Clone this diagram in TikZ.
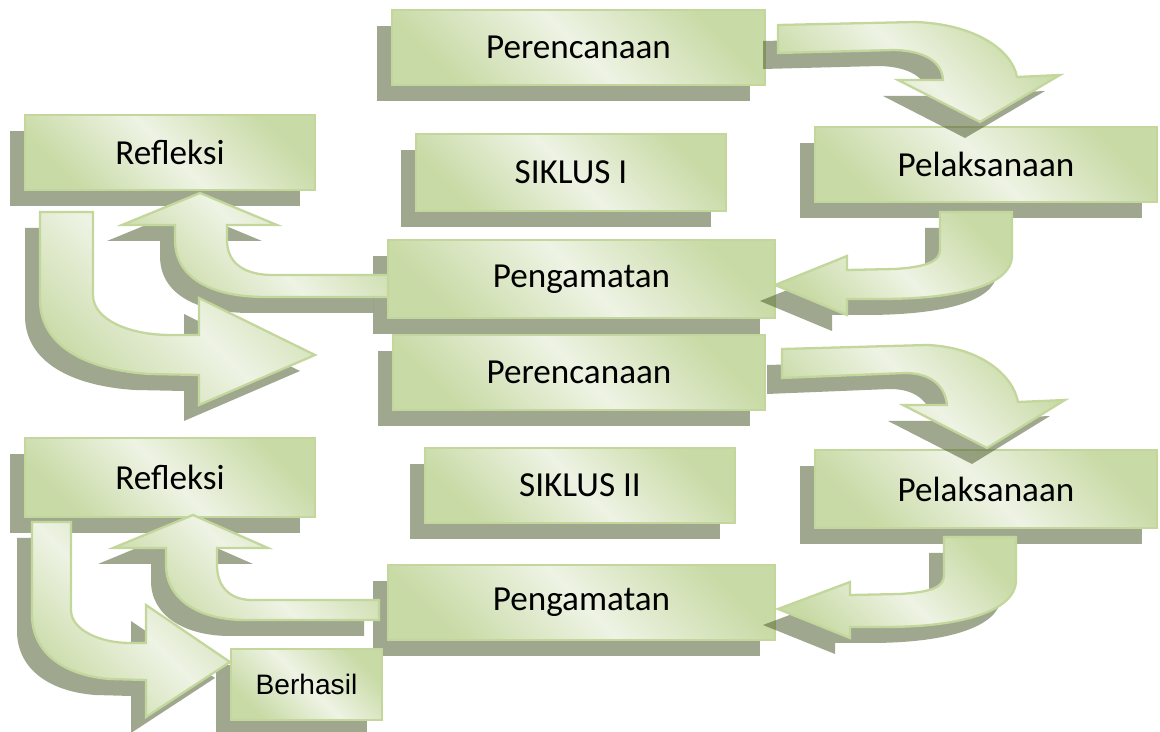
\documentclass[tikz,border=0pt]{standalone}
\usepackage{fontspec}
\setmainfont{Carlito}
\newfontfamily\arialfont{Liberation Sans}
\usetikzlibrary{shadows}

\definecolor{boxline}{RGB}{195,214,155}
\definecolor{boxdark}{RGB}{200,218,165}
\definecolor{boxlight}{RGB}{238,243,228}
\definecolor{shadowgreen}{RGB}{80,95,50}

\begin{document}
\begin{tikzpicture}[
  x=0.02cm, y=-0.02cm,
  softshadow/.style={drop shadow={shadow xshift=-0.3cm, shadow yshift=-0.32cm, fill=shadowgreen, opacity=0.55}},
  greenfill/.style={draw=boxline, line width=1.3pt, top color=boxdark, bottom color=boxdark, middle color=boxlight, shading angle=-45},
  box/.style={greenfill, softshadow, rectangle, minimum height=1.5cm, font=\fontsize{20}{24}\selectfont},
  fatarrow/.style={greenfill, softshadow, line join=miter}
]
  \useasboundingbox (0,0) rectangle (1160,732);

  % Siklus I
  \node[box, minimum width=7.46cm] (plan1) at (578.5,47.5) {Perencanaan};
  \node[box, minimum width=5.8cm] (refl1) at (170,152.5) {Refleksi};
  \node[box, minimum width=6.2cm, minimum height=1.54cm] (cyc1) at (571,172.5) {SIKLUS I};
  \node[box, minimum width=6.84cm] (exec1) at (986,164.5) {Pelaksanaan};
  \node[box, minimum width=7.74cm, minimum height=1.56cm] (obs1) at (581.5,279) {Pengamatan};

  % Siklus II
  \node[box, minimum width=7.44cm] (plan2) at (579,372.5) {Perencanaan};
  \node[box, minimum width=5.8cm, minimum height=1.58cm] (refl2) at (170,477.5) {Refleksi};
  \node[box, minimum width=6.2cm] (cyc2) at (580,485.5) {SIKLUS II};
  \node[box, minimum width=6.84cm, minimum height=1.56cm] (exec2) at (986,489) {Pelaksanaan};
  \node[box, minimum width=7.74cm] (obs2) at (581.5,602.5) {Pengamatan};
  \node[box, minimum width=3.02cm, minimum height=1.42cm, font=\arialfont\fontsize{16}{19}\selectfont] (done) at (306.5,684.5) {Berhasil};

  % Panah siklus I
  \path[fatarrow] (778,25) -- (915,22) .. controls (975,24) and (1012,50) .. (1017,77) -- (1060,75) -- (980,122) -- (898,80) -- (943,80) .. controls (942,62) and (925,51) .. (895,50) -- (778,53) -- cycle;
  \path[fatarrow] (940,212) -- (1012,212) -- (1012,257) .. controls (1010,285) and (960,299) .. (880,299) -- (847,299) -- (847,315) -- (775,285) -- (847,256) -- (847,270) -- (895,269) .. controls (925,267) and (940,262) .. (940,250) -- cycle;
  \path[fatarrow] (388,275) -- (270,275) .. controls (240,274) and (227,260) .. (227,240) -- (227,225) -- (277,225) -- (200,193) -- (122,225) -- (175,225) -- (175,240) .. controls (175,280) and (215,297) .. (265,297) -- (388,297) -- cycle;
  \path[fatarrow] (40,212) -- (93,212) -- (93,295) .. controls (93,320) and (130,335) .. (170,335) -- (199,335) -- (199,298) -- (315,355) -- (199,405) -- (199,375) -- (150,374) .. controls (85,370) and (40,345) .. (40,300) -- cycle;

  % Panah siklus II
  \path[fatarrow] (782,349) -- (927,345) .. controls (980,347) and (1013,375) .. (1018,402) -- (1065,400) -- (987,448) -- (903,405) -- (947,405) .. controls (945,385) and (930,373) .. (905,373) -- (782,378) -- cycle;
  \path[fatarrow] (944,537) -- (1016,537) -- (1016,582) .. controls (1014,610) and (965,627) .. (885,627) -- (850,627) -- (850,638) -- (778,609) -- (850,582) -- (850,595) -- (900,594) .. controls (930,592) and (944,588) .. (944,575) -- cycle;
  \path[fatarrow] (379,600) -- (250,600) .. controls (228,599) and (217,585) .. (217,565) -- (217,548) -- (268,548) -- (193,515) -- (113,548) -- (166,548) -- (166,565) .. controls (166,600) and (200,620) .. (245,620) -- (379,620) -- cycle;
  \path[fatarrow] (32,522) -- (71,522) -- (71,610) .. controls (71,630) and (100,643) .. (130,643) -- (146,643) -- (146,605) -- (230,662) -- (146,717) -- (146,680) -- (110,679) .. controls (60,675) and (32,650) .. (32,615) -- cycle;

\end{tikzpicture}
\end{document}
